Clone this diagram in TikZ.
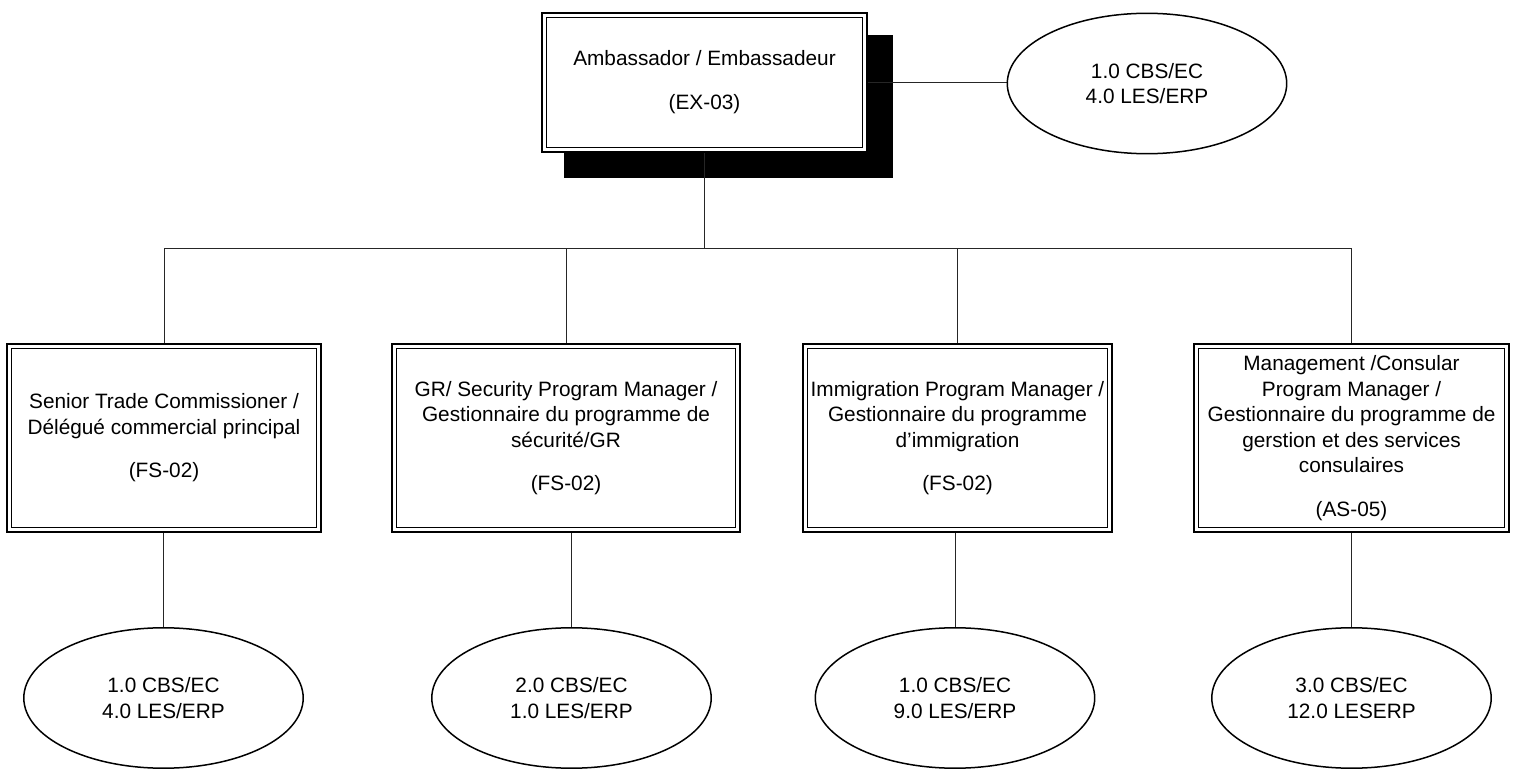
\documentclass[tikz,border=0pt]{standalone}
\usepackage{fontspec}
\setmainfont{Liberation Sans}
\usetikzlibrary{shapes.geometric,backgrounds}

\begin{document}
\begin{tikzpicture}[x=0.5pt,y=-0.5pt,
  post/.style={draw, double, line width=0.8pt, double distance=1.6pt, fill=white,
    align=center, inner sep=0pt, minimum height=91.8pt,
    font=\fontsize{10.4}{12.8}\selectfont},
  staff/.style={draw, ellipse, line width=0.75pt, align=center, inner sep=0pt,
    minimum width=139.7pt, minimum height=70.2pt,
    font=\fontsize{10.4}{12.8}\selectfont},
  link/.style={line width=0.5pt, black!85}]
\useasboundingbox (0,0) rectangle (1516,770);

\node[post, minimum width=160.3pt, minimum height=67.3pt] (amb) at (704.5,82.5)
  {Ambassador / Embassadeur\\[9.2pt](EX-03)};
\begin{pgfonlayer}{background}
\fill[black] ([xshift=10.4pt,yshift=-13.6pt]amb.south west) rectangle ([xshift=13.6pt,yshift=-10.4pt]amb.north east);
\end{pgfonlayer}
\node[staff] (ambstaff) at (1147,83.5) {1.0 CBS/EC\\4.0 LES/ERP};

\node[post, minimum width=154.8pt] (trade) at (164,438)
  {Senior Trade Commissioner /\\D\'el\'egu\'e commercial principal\\[8.8pt](FS-02)};
\node[post, minimum width=171.8pt] (secu) at (566,438)
  {GR/ Security Program Manager /\\Gestionnaire du programme de\\s\'ecurit\'e/GR\\[8.8pt](FS-02)};
\node[post, minimum width=152.3pt] (immi) at (957.5,438)
  {Immigration Program Manager /\\Gestionnaire du programme\\d’immigration\\[8.8pt](FS-02)};
\node[post, minimum width=155.3pt] (mgmt) at (1351.5,438)
  {Management /Consular\\Program Manager /\\Gestionnaire du programme de\\gerstion et des services\\consulaires\\[8.8pt](AS-05)};

\node[staff] (tradestaff) at (163.5,698) {1.0 CBS/EC\\4.0 LES/ERP};
\node[staff] (secustaff) at (571.5,698) {2.0 CBS/EC\\1.0 LES/ERP};
\node[staff] (immistaff) at (955,698) {1.0 CBS/EC\\9.0 LES/ERP};
\node[staff] (mgmtstaff) at (1351.5,698) {3.0 CBS/EC\\12.0 LESERP};

\coordinate (bus) at (704.5,249);
\begin{pgfonlayer}{background}
\draw[link] (amb.east) -- (amb.east -| ambstaff.west);
\draw[link] (amb.south) -- (bus);
\draw[link] (trade.north) -- (trade.north |- bus) -- (mgmt.north |- bus) -- (mgmt.north);
\draw[link] (secu.north) -- (secu.north |- bus);
\draw[link] (immi.north) -- (immi.north |- bus);
\draw[link] (tradestaff.north) -- (tradestaff.north |- trade.south);
\draw[link] (secustaff.north) -- (secustaff.north |- secu.south);
\draw[link] (immistaff.north) -- (immistaff.north |- immi.south);
\draw[link] (mgmtstaff.north) -- (mgmtstaff.north |- mgmt.south);
\end{pgfonlayer}
\end{tikzpicture}
\end{document}
